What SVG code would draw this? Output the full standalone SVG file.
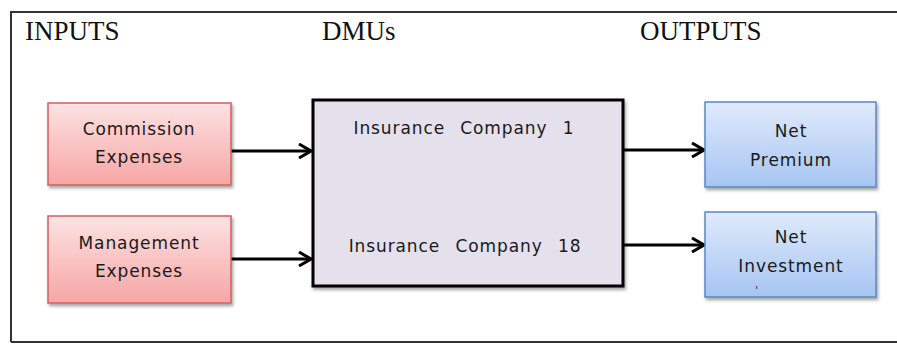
<svg xmlns="http://www.w3.org/2000/svg" width="897" height="358" viewBox="0 0 897 358">
<defs>
<linearGradient id="gRed" x1="0" y1="0" x2="0" y2="1">
<stop offset="0" stop-color="#fde3e3"/>
<stop offset="1" stop-color="#f7a5a5"/>
</linearGradient>
<linearGradient id="gBlue" x1="0" y1="0" x2="0" y2="1">
<stop offset="0" stop-color="#e0eafb"/>
<stop offset="1" stop-color="#a6c5f3"/>
</linearGradient>
<filter id="sh" x="-10%" y="-10%" width="125%" height="130%">
<feDropShadow dx="1.5" dy="2.5" stdDeviation="1.8" flood-color="#000" flood-opacity="0.35"/>
</filter>
<marker id="arr" viewBox="0 0 14 16" refX="13" refY="8" markerWidth="14" markerHeight="16" markerUnits="userSpaceOnUse" orient="auto">
<path d="M1,1 L13,8 L1,15" fill="none" stroke="#000" stroke-width="3" stroke-linejoin="miter"/>
</marker>
</defs>
<style>
.hdr{font-family:"Liberation Serif","Times New Roman",serif;font-size:27px;fill:#111}
.lbl{font-family:"DejaVu Sans","Verdana",sans-serif;font-size:17px;fill:#1a1a1a;text-anchor:middle;letter-spacing:0.9px}
.in{fill:url(#gRed);stroke:#d0605c;stroke-width:1.5}
.out{fill:url(#gBlue);stroke:#5c86c4;stroke-width:1.5}
.dmu{fill:#e4e0ec;stroke:#000;stroke-width:3}
.con{stroke:#000;stroke-width:3;fill:none}
</style>
<rect width="897" height="358" fill="#fff"/>
<g id="frame">
<path d="M11,342 L11,12 L900,12" fill="none" stroke="#333" stroke-width="2"/>
<path d="M11,342 L900,342" fill="none" stroke="#333" stroke-width="2"/>
</g>
<g id="headers">
<text class="hdr" x="25" y="40">INPUTS</text>
<text class="hdr" x="322" y="40">DMUs</text>
<text class="hdr" x="640" y="40">OUTPUTS</text>
</g>
<g id="connectors">
<line class="con" x1="231" y1="151" x2="311" y2="151" marker-end="url(#arr)"/>
<line class="con" x1="231" y1="259" x2="311" y2="259" marker-end="url(#arr)"/>
<line class="con" x1="623" y1="150" x2="704" y2="150" marker-end="url(#arr)"/>
<line class="con" x1="623" y1="245" x2="704" y2="245" marker-end="url(#arr)"/>
</g>
<g id="commission">
<rect class="in" x="48" y="103" width="183" height="82" filter="url(#sh)"/>
<text class="lbl" x="139" y="135">Commission</text>
<text class="lbl" x="139" y="163">Expenses</text>
</g>
<g id="management">
<rect class="in" x="48" y="216" width="183" height="87" filter="url(#sh)"/>
<text class="lbl" x="139" y="249">Management</text>
<text class="lbl" x="139" y="277">Expenses</text>
</g>
<g id="dmu">
<rect class="dmu" x="313" y="100" width="310" height="186" filter="url(#sh)"/>
<text class="lbl" x="464" y="134" style="word-spacing:9px">Insurance Company 1</text>
<text class="lbl" x="465" y="252" style="word-spacing:9px">Insurance Company 18</text>
</g>
<g id="netpremium">
<rect class="out" x="705" y="102" width="171" height="85" filter="url(#sh)"/>
<text class="lbl" x="791" y="137">Net</text>
<text class="lbl" x="791" y="166">Premium</text>
</g>
<g id="netinvestment">
<rect class="out" x="705" y="212" width="171" height="85" filter="url(#sh)"/>
<text class="lbl" x="791" y="243">Net</text>
<text class="lbl" x="791" y="272">Investment</text>
<text class="lbl" x="757" y="294" style="font-size:10px">'</text>
</g>
</svg>
